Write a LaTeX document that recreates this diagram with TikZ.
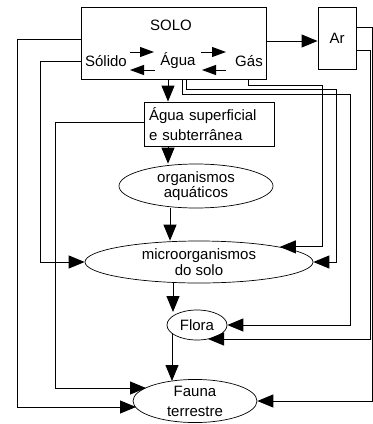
\documentclass[tikz,border=0pt]{standalone}
\usepackage{fontspec}
\setmainfont{Liberation Sans}
\usetikzlibrary{arrows.meta,shapes.geometric}
\begin{document}
\begin{tikzpicture}[x=1pt,y=-1pt,
  every node/.style={font=\fontsize{15}{15.5}\selectfont, inner sep=0pt},
  box/.style={draw, line width=0.9pt, rectangle},
  oval/.style={draw, line width=0.7pt, ellipse},
  arr/.style={line width=1pt, -{Triangle[length=16pt,width=13pt]}},
  sarr/.style={line width=1pt, -{Triangle[length=14pt,width=10pt]}}]
\useasboundingbox (0,0) rectangle (373,424);
% nodes
\node[box, minimum width=185pt, minimum height=72pt] (solo) at (173.5,43) {};
\node (solot) at (171,25) {SOLO};
\node (sol) at (106,61) {Sólido};
\node (agu) at (178,61) {Água};
\node (gas) at (249,61) {Gás};
\node[box, minimum width=38pt, minimum height=62pt] (ar) at (337,38) {Ar};
\node[box, minimum width=130pt, minimum height=44pt, text width=120pt, align=left, inner xsep=5pt, font=\fontsize{15}{20}\selectfont] (aguas) at (209,124) {Água superficial\\e subterrânea};
\node[oval, minimum width=154pt, minimum height=44pt, align=center] (org) at (196,186) {organismos\\aquáticos};
\node[oval, minimum width=228pt, minimum height=42pt, align=center] (micro) at (199,262) {microorganismos\\do solo};
\node[oval, minimum width=60pt, minimum height=30pt] (flora) at (197,325) {Flora};
\node[oval, minimum width=124pt, minimum height=42pt, align=center, font=\fontsize{15}{20}\selectfont] (fauna) at (195,401) {Fauna\\terrestre};
% helper coordinates
\coordinate (i1) at (130,52); \coordinate (i2) at (154,52);
\coordinate (i3) at (155,70); \coordinate (i4) at (130,70);
\coordinate (i5) at (201,52); \coordinate (i6) at (226,52);
\coordinate (i7) at (226,70); \coordinate (i8) at (202,70);
\coordinate (xL1) at (17,0); \coordinate (xL2) at (40,0); \coordinate (xL3) at (55,0);
\coordinate (xA) at (168,0); \coordinate (xB) at (170,0); \coordinate (xC) at (173,0);
\coordinate (xS1) at (248,0); \coordinate (xS2) at (186,0); \coordinate (xS3) at (182,0);
\coordinate (xR1) at (322,0); \coordinate (xR2) at (336,0); \coordinate (xR3) at (350,0);
\coordinate (xR4) at (370,0); \coordinate (xR5) at (372.8,0);
\coordinate (yS1) at (0,85); \coordinate (yS2) at (0,89); \coordinate (yS3) at (0,94);
\coordinate (yArA) at (0,27); \coordinate (yArB) at (0,50);
\coordinate (ySolA) at (0,39); \coordinate (ySolB) at (0,61); \coordinate (yAgL) at (0,122);
\coordinate (yArrow) at (0,41);
\coordinate (tFaL1) at (136,407); \coordinate (tFaL2) at (146,388);
\coordinate (tFlR2) at (208,339);
\coordinate (tFlT) at (173,312); \coordinate (sFlB) at (172,333); \coordinate (tFaT) at (172,381);
% inner arrows
\draw[sarr] (i1) -- (i2);
\draw[sarr] (i3) -- (i4);
\draw[sarr] (i5) -- (i6);
\draw[sarr] (i7) -- (i8);
% main chain
\draw[arr] (solo.east |- yArrow) -- (ar.west |- yArrow);
\draw[arr] (solo.south -| xA) -- (aguas.north -| xA);
\draw[arr] (aguas.south -| xA) -- (org.north -| xA);
\draw[arr] (org.south -| xB) -- (micro.north -| xB);
\draw[arr] (micro.south -| xC) -- (tFlT);
\draw[arr] (sFlB) -- (tFaT);
% left routes
\draw[arr] (solo.west |- ySolA) -| (xL1 |- tFaL1) -- (tFaL1);
\draw[arr] (solo.west |- ySolB) -| (xL2 |- micro.west) -- (micro.west);
\draw[arr] (aguas.west |- yAgL) -| (xL3 |- tFaL2) -- (tFaL2);
% right routes
\draw[arr] (solo.south -| xS1) |- (yS1 -| xR1) |- (micro.north east);
\draw[arr] (solo.south -| xS2) |- (yS2 -| xR2) |- (micro.east);
\draw[arr] (solo.south -| xS3) |- (yS3 -| xR3) |- (flora.east);
\draw[arr] (ar.east |- yArA) -| (xR5 |- fauna.east) -- (fauna.east);
\draw[arr] (ar.east |- yArB) -| (xR4 |- tFlR2) -- (tFlR2);
\end{tikzpicture}
\end{document}
